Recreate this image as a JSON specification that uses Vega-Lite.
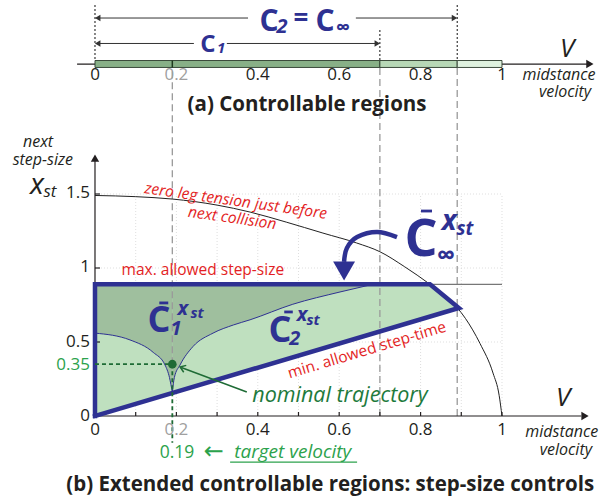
{
  "$schema": "https://vega.github.io/schema/vega-lite/v6.json",
  "width": 603,
  "height": 501,
  "autosize": {"type": "none"},
  "padding": 0,
  "background": "white",
  "config": {"view": {"stroke": null}, "font": "Open Sans"},
  "encoding": {
    "x": {"field": "x", "type": "quantitative", "scale": {"domain": [-0.2334, 1.2482], "nice": false, "zero": false}, "axis": null},
    "y": {"field": "y", "type": "quantitative", "scale": {"domain": [-0.5743, 2.8108], "nice": false, "zero": false}, "axis": null}
  },
  "datasets": {
    "grid": [
      {"x": 0.1, "y": 0, "x2": 0.1, "y2": 1.5}, {"x": 0.2, "y": 0, "x2": 0.2, "y2": 1.5},
      {"x": 0.3, "y": 0, "x2": 0.3, "y2": 1.5}, {"x": 0.4, "y": 0, "x2": 0.4, "y2": 1.5},
      {"x": 0.5, "y": 0, "x2": 0.5, "y2": 1.5}, {"x": 0.6, "y": 0, "x2": 0.6, "y2": 1.5},
      {"x": 0.7, "y": 0, "x2": 0.7, "y2": 1.5}, {"x": 0.8, "y": 0, "x2": 0.8, "y2": 1.5},
      {"x": 0.9, "y": 0, "x2": 0.9, "y2": 1.5}, {"x": 1.0, "y": 0, "x2": 1.0, "y2": 1.5},
      {"x": 0, "y": 0.5, "x2": 1, "y2": 0.5}, {"x": 0, "y": 1, "x2": 1, "y2": 1}, {"x": 0, "y": 1.5, "x2": 1, "y2": 1.5}
    ],
    "cinf": [
      {"x": 0, "y": 0, "top": 0.89}, {"x": 0.823, "y": 0.672, "top": 0.89}, {"x": 0.894, "y": 0.73, "top": 0.73}
    ],
    "bc": [
      {"c": "left", "x": 0, "y": 0.56, "top": 0.89},
      {"c": "left", "x": 0.086, "y": 0.514, "top": 0.89},
      {"c": "left", "x": 0.143, "y": 0.43, "top": 0.89},
      {"c": "left", "x": 0.172, "y": 0.345, "top": 0.89},
      {"c": "left", "x": 0.183, "y": 0.26, "top": 0.89},
      {"c": "left", "x": 0.19, "y": 0.16, "top": 0.89},
      {"c": "right", "x": 0.19, "y": 0.16, "top": 0.89},
      {"c": "right", "x": 0.195, "y": 0.26, "top": 0.89},
      {"c": "right", "x": 0.209, "y": 0.345, "top": 0.89},
      {"c": "right", "x": 0.241, "y": 0.47, "top": 0.89},
      {"c": "right", "x": 0.29, "y": 0.56, "top": 0.89},
      {"c": "right", "x": 0.34, "y": 0.615, "top": 0.89},
      {"c": "right", "x": 0.381, "y": 0.65, "top": 0.89},
      {"c": "right", "x": 0.486, "y": 0.755, "top": 0.89},
      {"c": "right", "x": 0.602, "y": 0.838, "top": 0.89},
      {"c": "right", "x": 0.683, "y": 0.89, "top": 0.89}
    ],
    "tension": [
      {"x": 0, "y": 1.49}, {"x": 0.1, "y": 1.482}, {"x": 0.19, "y": 1.466}, {"x": 0.3, "y": 1.425},
      {"x": 0.381, "y": 1.378}, {"x": 0.47, "y": 1.31}, {"x": 0.56, "y": 1.236}, {"x": 0.643, "y": 1.169},
      {"x": 0.7, "y": 1.11}, {"x": 0.76, "y": 1.01}, {"x": 0.823, "y": 0.89}, {"x": 0.87, "y": 0.79},
      {"x": 0.91, "y": 0.66}, {"x": 0.946, "y": 0.49}, {"x": 0.978, "y": 0.29}, {"x": 0.993, "y": 0.14}, {"x": 1.0, "y": 0}
    ],
    "maxline": [{"x": 0.823, "y": 0.89, "x2": 1.0, "y2": 0.89}],
    "vdash": [
      {"x": 0.19, "y": 0.35, "x2": 0.19, "y2": 2.365},
      {"x": 0.7, "y": 0, "x2": 0.7, "y2": 2.365},
      {"x": 0.89, "y": 0, "x2": 0.89, "y2": 2.365}
    ],
    "boundary": [
      {"o": 1, "x": 0, "y": 0}, {"o": 2, "x": 0, "y": 0.89}, {"o": 3, "x": 0.823, "y": 0.89},
      {"o": 4, "x": 0.894, "y": 0.73}, {"o": 5, "x": 0, "y": 0}
    ],
    "axes": [
      {"x": -0.044, "y": 2.378, "x2": 1.21, "y2": 2.378},
      {"x": 0, "y": 0, "x2": 1.195, "y2": 0},
      {"x": 0, "y": 0, "x2": 0, "y2": 1.73},
      {"x": 0.1, "y": 0, "x2": 0.1, "y2": 0.027}, {"x": 0.2, "y": 0, "x2": 0.2, "y2": 0.027},
      {"x": 0.3, "y": 0, "x2": 0.3, "y2": 0.027}, {"x": 0.4, "y": 0, "x2": 0.4, "y2": 0.027},
      {"x": 0.5, "y": 0, "x2": 0.5, "y2": 0.027}, {"x": 0.6, "y": 0, "x2": 0.6, "y2": 0.027},
      {"x": 0.7, "y": 0, "x2": 0.7, "y2": 0.027}, {"x": 0.8, "y": 0, "x2": 0.8, "y2": 0.027},
      {"x": 0.9, "y": 0, "x2": 0.9, "y2": 0.027}, {"x": 1.0, "y": 0, "x2": 1.0, "y2": 0.027},
      {"x": 0, "y": 0.5, "x2": 0.0123, "y2": 0.5}, {"x": 0, "y": 1, "x2": 0.0123, "y2": 1},
      {"x": 0, "y": 1.5, "x2": 0.0123, "y2": 1.5}
    ],
    "bar": [
      {"x": 0, "x2": 0.7, "y": 2.355, "y2": 2.402, "k": "C1"},
      {"x": 0.7, "x2": 0.89, "y": 2.355, "y2": 2.402, "k": "C2"},
      {"x": 0.89, "x2": 1.0, "y": 2.355, "y2": 2.402, "k": "rest"}
    ],
    "bartick": [{"x": 0.19, "y": 2.355, "x2": 0.19, "y2": 2.402}],
    "dotted": [
      {"x": 0, "y": 2.777, "x2": 0, "y2": 2.402},
      {"x": 0.7, "y": 2.608, "x2": 0.7, "y2": 2.402},
      {"x": 0.89, "y": 2.777, "x2": 0.89, "y2": 2.402}
    ],
    "carrows": [
      {"x": 0.005, "y": 2.689, "x2": 0.376, "y2": 2.689},
      {"x": 0.641, "y": 2.689, "x2": 0.885, "y2": 2.689},
      {"x": 0.005, "y": 2.517, "x2": 0.243, "y2": 2.517},
      {"x": 0.324, "y": 2.517, "x2": 0.695, "y2": 2.517}
    ],
    "headsL": [{"x": 0.0066, "y": 2.689}, {"x": 0.0066, "y": 2.517}],
    "headsR": [{"x": 0.8833, "y": 2.689}, {"x": 0.6937, "y": 2.517}],
    "axisR": [{"x": 1.216, "y": 2.378}, {"x": 1.204, "y": 0}],
    "axisU": [{"x": 0, "y": 1.743}],
    "gdash": [
      {"x": 0, "y": 0.35, "x2": 0.19, "y2": 0.35},
      {"x": 0.19, "y": 0.35, "x2": 0.19, "y2": -0.18}
    ],
    "garrow": [{"x": 0.373, "y": 0.162, "x2": 0.212, "y2": 0.328}],
    "gtip": [{"x": 0.209, "y": 0.331}],
    "gdot": [{"x": 0.19, "y": 0.35}],
    "uline": [{"x": 0.332, "y": -0.311, "x2": 0.644, "y2": -0.311}],
    "macron": [
      {"x": 0.801, "y": 1.385, "x2": 0.828, "y2": 1.385},
      {"x": 0.158, "y": 0.764, "x2": 0.18, "y2": 0.764},
      {"x": 0.465, "y": 0.703, "x2": 0.486, "y2": 0.703}
    ],
    "bluearrow": [
      {"o": 1, "x": 0.742, "y": 1.209}, {"o": 2, "x": 0.693, "y": 1.243}, {"o": 3, "x": 0.644, "y": 1.209},
      {"o": 4, "x": 0.619, "y": 1.135}, {"o": 5, "x": 0.612, "y": 1.041}
    ],
    "bluehead": [{"x": 0.612, "y": 0.98}],
    "xlab": [
      {"x": 0, "y": -0.095, "t": "0"}, {"x": 0.4, "y": -0.095, "t": "0.4"}, {"x": 0.6, "y": -0.095, "t": "0.6"},
      {"x": 0.8, "y": -0.095, "t": "0.8"}, {"x": 1.0, "y": -0.095, "t": "1"},
      {"x": 0, "y": 2.304, "t": "0"}, {"x": 0.4, "y": 2.304, "t": "0.4"}, {"x": 0.6, "y": 2.304, "t": "0.6"},
      {"x": 0.8, "y": 2.304, "t": "0.8"}, {"x": 1.0, "y": 2.304, "t": "1"}
    ],
    "xlabgray": [{"x": 0.2, "y": -0.095, "t": "0.2"}, {"x": 0.2, "y": 2.304, "t": "0.2"}],
    "ylab": [
      {"x": -0.0123, "y": 1.507, "t": "1.5"}, {"x": -0.0123, "y": 1.007, "t": "1"},
      {"x": -0.0123, "y": 0.5, "t": "0.5"}, {"x": -0.0123, "y": 0.0, "t": "0"}
    ],
    "ylabgreen": [{"x": -0.0123, "y": 0.345, "t": "0.35"}],
    "axnames": [
      {"x": -0.14, "y": 1.85, "t": "next"}, {"x": -0.128, "y": 1.727, "t": "step-size"},
      {"x": 1.147, "y": -0.108, "t": "midstance"}, {"x": 1.157, "y": -0.232, "t": "velocity"},
      {"x": 1.14, "y": 2.304, "t": "midstance"}, {"x": 1.155, "y": 2.19, "t": "velocity"}
    ],
    "vlab": [{"x": 1.16, "y": 2.48, "t": "V"}, {"x": 1.15, "y": 0.122, "t": "V"}],
    "xst_x": [{"x": -0.1425, "y": 1.561, "t": "x"}],
    "xst_st": [{"x": -0.1106, "y": 1.514, "t": "st"}],
    "titles": [
      {"x": 0.521, "y": 2.101, "t": "(a)  Controllable regions"},
      {"x": 0.578, "y": -0.466, "t": "(b)  Extended controllable regions: step-size controls"}
    ],
    "redflat": [{"x": 0.265, "y": 0.986, "t": "max. allowed step-size"}],
    "redcurve": [
      {"x": 0.346, "y": 1.453, "t": "zero leg tension just before"},
      {"x": 0.337, "y": 1.338, "t": "next collision"}
    ],
    "redslope": [{"x": 0.668, "y": 0.446, "t": "min. allowed step-time"}],
    "b52": [{"x": 0.801, "y": 1.081, "t": "C"}],
    "b36": [{"x": 0.157, "y": 0.5676, "t": "C"}, {"x": 0.4545, "y": 0.5, "t": "C"}],
    "b30": [{"x": 0.4275, "y": 2.601, "t": "C"}, {"x": 0.565, "y": 2.601, "t": "C"}],
    "b26": [{"x": 0.506, "y": 2.682, "t": "="}, {"x": 0.862, "y": 1.081, "t": "∞"}],
    "b24": [{"x": 0.2776, "y": 2.459, "t": "C"}],
    "b20i": [
      {"x": 0.4595, "y": 2.628, "t": "2"}, {"x": 0.609, "y": 2.622, "t": "∞"},
      {"x": 0.199, "y": 0.588, "t": "1"}, {"x": 0.216, "y": 0.723, "t": "x"},
      {"x": 0.491, "y": 0.52, "t": "2"}, {"x": 0.5086, "y": 0.682, "t": "x"}
    ],
    "b28i": [{"x": 0.87, "y": 1.311, "t": "x"}],
    "b19i": [{"x": 0.909, "y": 1.264, "t": "st"}],
    "b15i": [
      {"x": 0.31, "y": 2.486, "t": "1"}, {"x": 0.251, "y": 0.696, "t": "st"}, {"x": 0.536, "y": 0.649, "t": "st"}
    ],
    "greentxt": [{"x": 0.2015, "y": -0.25, "t": "0.19"}],
    "greenarrow": [{"x": 0.292, "y": -0.245, "t": "←"}],
    "greenital": [{"x": 0.486, "y": -0.243, "t": "target velocity"}],
    "nominal": [{"x": 0.602, "y": 0.135, "t": "nominal trajectory"}]
  },
  "layer": [
    {"data": {"name": "grid"}, "mark": {"type": "rule", "color": "#d6d6d6", "strokeWidth": 0.8, "strokeDash": [1, 2]},
     "encoding": {"x2": {"field": "x2"}, "y2": {"field": "y2"}}},
    {"data": {"name": "cinf"}, "mark": {"type": "area", "color": "#bfe0bf", "opacity": 1},
     "encoding": {"y": {"field": "y", "type": "quantitative", "stack": null, "scale": {"domain": [-0.5743, 2.8108], "nice": false, "zero": false}, "axis": null}, "y2": {"field": "top"}}},
    {"data": {"name": "bc"}, "mark": {"type": "area", "color": "#9fbf9e", "opacity": 1, "interpolate": "monotone"},
     "encoding": {"y": {"field": "y", "type": "quantitative", "stack": null, "scale": {"domain": [-0.5743, 2.8108], "nice": false, "zero": false}, "axis": null}, "y2": {"field": "top"}, "detail": {"field": "c"}}},
    {"data": {"name": "bc"}, "mark": {"type": "line", "color": "#2e3192", "strokeWidth": 1, "interpolate": "monotone"},
     "encoding": {"detail": {"field": "c"}}},
    {"data": {"name": "vdash"}, "mark": {"type": "rule", "color": "#9a9a9a", "strokeWidth": 1.3, "strokeDash": [7, 4]},
     "encoding": {"x2": {"field": "x2"}, "y2": {"field": "y2"}}},
    {"data": {"name": "tension"}, "mark": {"type": "line", "color": "#222222", "strokeWidth": 1, "interpolate": "monotone"},
     "encoding": {}},
    {"data": {"name": "maxline"}, "mark": {"type": "rule", "color": "#777777", "strokeWidth": 1.3},
     "encoding": {"x2": {"field": "x2"}, "y2": {"field": "y2"}}},
    {"data": {"name": "axes"}, "mark": {"type": "rule", "color": "#231f20", "strokeWidth": 1.2},
     "encoding": {"x2": {"field": "x2"}, "y2": {"field": "y2"}}},
    {"data": {"name": "boundary"}, "mark": {"type": "line", "color": "#2e3192", "strokeWidth": 4.5, "strokeJoin": "miter", "strokeCap": "square"},
     "encoding": {"order": {"field": "o"}}},
    {"data": {"name": "gdash"}, "mark": {"type": "rule", "color": "#1e6b35", "strokeWidth": 1.8, "strokeDash": [4, 3]},
     "encoding": {"x2": {"field": "x2"}, "y2": {"field": "y2"}}},
    {"data": {"name": "garrow"}, "mark": {"type": "rule", "color": "#1e6b35", "strokeWidth": 1.5},
     "encoding": {"x2": {"field": "x2"}, "y2": {"field": "y2"}}},
    {"data": {"name": "gtip"}, "mark": {"type": "point", "shape": "M-1,-0.7L0,0L-1,0.7", "filled": false, "stroke": "#1e6b35", "strokeWidth": 1.5, "size": 110, "angle": 200, "opacity": 1},
     "encoding": {}},
    {"data": {"name": "gdot"}, "mark": {"type": "point", "shape": "circle", "filled": true, "color": "#1e6b35", "size": 75, "opacity": 1},
     "encoding": {}},
    {"data": {"name": "uline"}, "mark": {"type": "rule", "color": "#2ca24c", "strokeWidth": 1.2},
     "encoding": {"x2": {"field": "x2"}, "y2": {"field": "y2"}}},
    {"data": {"name": "bar"}, "mark": {"type": "rect", "stroke": "#2b3b2b", "strokeWidth": 0.9},
     "encoding": {"x2": {"field": "x2"}, "y2": {"field": "y2"},
       "color": {"field": "k", "type": "nominal", "scale": {"domain": ["C1", "C2", "rest"], "range": ["#88b087", "#b7d8b6", "#dff2df"]}, "legend": null}}},
    {"data": {"name": "bartick"}, "mark": {"type": "rule", "color": "#1e3a1e", "strokeWidth": 1.5},
     "encoding": {"x2": {"field": "x2"}, "y2": {"field": "y2"}}},
    {"data": {"name": "dotted"}, "mark": {"type": "rule", "color": "#111111", "strokeWidth": 1, "strokeDash": [2, 2]},
     "encoding": {"x2": {"field": "x2"}, "y2": {"field": "y2"}}},
    {"data": {"name": "carrows"}, "mark": {"type": "rule", "color": "#333333", "strokeWidth": 1},
     "encoding": {"x2": {"field": "x2"}, "y2": {"field": "y2"}}},
    {"data": {"name": "headsL"}, "mark": {"type": "point", "shape": "triangle-left", "filled": true, "color": "#333333", "size": 40, "opacity": 1}, "encoding": {}},
    {"data": {"name": "headsR"}, "mark": {"type": "point", "shape": "triangle-right", "filled": true, "color": "#333333", "size": 40, "opacity": 1}, "encoding": {}},
    {"data": {"name": "axisR"}, "mark": {"type": "point", "shape": "triangle-right", "filled": true, "color": "#231f20", "size": 70, "opacity": 1}, "encoding": {}},
    {"data": {"name": "axisU"}, "mark": {"type": "point", "shape": "triangle-up", "filled": true, "color": "#231f20", "size": 70, "opacity": 1}, "encoding": {}},
    {"data": {"name": "macron"}, "mark": {"type": "rule", "color": "#2e3192", "strokeWidth": 2.8},
     "encoding": {"x2": {"field": "x2"}, "y2": {"field": "y2"}}},
    {"data": {"name": "bluearrow"}, "mark": {"type": "line", "color": "#2e3192", "strokeWidth": 4.5, "interpolate": "cardinal"},
     "encoding": {"order": {"field": "o"}}},
    {"data": {"name": "bluehead"}, "mark": {"type": "point", "shape": "triangle-down", "filled": true, "color": "#2e3192", "size": 480, "opacity": 1}, "encoding": {}},
    {"data": {"name": "xlab"}, "mark": {"type": "text", "font": "Open Sans", "fontSize": 17, "color": "#231f20", "align": "center", "baseline": "middle"}, "encoding": {"text": {"field": "t"}}},
    {"data": {"name": "xlabgray"}, "mark": {"type": "text", "font": "Open Sans", "fontSize": 17, "color": "#a0a0a0", "align": "center", "baseline": "middle"}, "encoding": {"text": {"field": "t"}}},
    {"data": {"name": "ylab"}, "mark": {"type": "text", "font": "Open Sans", "fontSize": 17, "color": "#231f20", "align": "right", "baseline": "middle"}, "encoding": {"text": {"field": "t"}}},
    {"data": {"name": "ylabgreen"}, "mark": {"type": "text", "font": "Open Sans", "fontSize": 17, "color": "#2ca24c", "align": "right", "baseline": "middle"}, "encoding": {"text": {"field": "t"}}},
    {"data": {"name": "axnames"}, "mark": {"type": "text", "font": "Open Sans", "fontSize": 16, "fontStyle": "italic", "color": "#231f20", "align": "center", "baseline": "middle"}, "encoding": {"text": {"field": "t"}}},
    {"data": {"name": "vlab"}, "mark": {"type": "text", "font": "Open Sans", "fontSize": 26, "fontStyle": "italic", "color": "#231f20", "align": "center", "baseline": "middle"}, "encoding": {"text": {"field": "t"}}},
    {"data": {"name": "xst_x"}, "mark": {"type": "text", "font": "Open Sans", "fontSize": 29, "fontStyle": "italic", "color": "#231f20", "align": "center", "baseline": "middle"}, "encoding": {"text": {"field": "t"}}},
    {"data": {"name": "xst_st"}, "mark": {"type": "text", "font": "Open Sans", "fontSize": 17, "fontStyle": "italic", "color": "#231f20", "align": "center", "baseline": "middle"}, "encoding": {"text": {"field": "t"}}},
    {"data": {"name": "titles"}, "mark": {"type": "text", "font": "Open Sans", "fontSize": 20.5, "fontWeight": "bold", "color": "#231f20", "align": "center", "baseline": "middle"}, "encoding": {"text": {"field": "t"}}},
    {"data": {"name": "redflat"}, "mark": {"type": "text", "font": "Open Sans", "fontSize": 15.5, "color": "#e31e24", "align": "center", "baseline": "middle"}, "encoding": {"text": {"field": "t"}}},
    {"data": {"name": "redcurve"}, "mark": {"type": "text", "font": "Open Sans", "fontSize": 15.5, "fontStyle": "italic", "color": "#e31e24", "align": "center", "baseline": "middle", "angle": 8}, "encoding": {"text": {"field": "t"}}},
    {"data": {"name": "redslope"}, "mark": {"type": "text", "font": "Open Sans", "fontSize": 15.5, "color": "#e31e24", "align": "center", "baseline": "middle", "angle": 343.3}, "encoding": {"text": {"field": "t"}}},
    {"data": {"name": "b52"}, "mark": {"type": "text", "font": "Open Sans", "fontSize": 52, "fontWeight": "bold", "color": "#2e3192", "align": "center", "baseline": "alphabetic"}, "encoding": {"text": {"field": "t"}}},
    {"data": {"name": "b36"}, "mark": {"type": "text", "font": "Open Sans", "fontSize": 36, "fontWeight": "bold", "color": "#2e3192", "align": "center", "baseline": "alphabetic"}, "encoding": {"text": {"field": "t"}}},
    {"data": {"name": "b30"}, "mark": {"type": "text", "font": "Open Sans", "fontSize": 30, "fontWeight": "bold", "color": "#2e3192", "align": "center", "baseline": "alphabetic"}, "encoding": {"text": {"field": "t"}}},
    {"data": {"name": "b26"}, "mark": {"type": "text", "font": "Open Sans", "fontSize": 26, "fontWeight": "bold", "color": "#2e3192", "align": "center", "baseline": "middle"}, "encoding": {"text": {"field": "t"}}},
    {"data": {"name": "b24"}, "mark": {"type": "text", "font": "Open Sans", "fontSize": 24, "fontWeight": "bold", "color": "#2e3192", "align": "center", "baseline": "alphabetic"}, "encoding": {"text": {"field": "t"}}},
    {"data": {"name": "b20i"}, "mark": {"type": "text", "font": "Open Sans", "fontSize": 20, "fontWeight": "bold", "fontStyle": "italic", "color": "#2e3192", "align": "center", "baseline": "middle"}, "encoding": {"text": {"field": "t"}}},
    {"data": {"name": "b28i"}, "mark": {"type": "text", "font": "Open Sans", "fontSize": 28, "fontWeight": "bold", "fontStyle": "italic", "color": "#2e3192", "align": "center", "baseline": "middle"}, "encoding": {"text": {"field": "t"}}},
    {"data": {"name": "b19i"}, "mark": {"type": "text", "font": "Open Sans", "fontSize": 19, "fontWeight": "bold", "fontStyle": "italic", "color": "#2e3192", "align": "center", "baseline": "middle"}, "encoding": {"text": {"field": "t"}}},
    {"data": {"name": "b15i"}, "mark": {"type": "text", "font": "Open Sans", "fontSize": 15, "fontWeight": "bold", "fontStyle": "italic", "color": "#2e3192", "align": "center", "baseline": "middle"}, "encoding": {"text": {"field": "t"}}},
    {"data": {"name": "greentxt"}, "mark": {"type": "text", "font": "Open Sans", "fontSize": 17.5, "color": "#2ca24c", "align": "center", "baseline": "middle"}, "encoding": {"text": {"field": "t"}}},
    {"data": {"name": "greenarrow"}, "mark": {"type": "text", "font": "DejaVu Sans", "fontSize": 24, "color": "#2ca24c", "align": "center", "baseline": "middle"}, "encoding": {"text": {"field": "t"}}},
    {"data": {"name": "greenital"}, "mark": {"type": "text", "font": "Open Sans", "fontSize": 19, "fontStyle": "italic", "color": "#2ca24c", "align": "center", "baseline": "middle"}, "encoding": {"text": {"field": "t"}}},
    {"data": {"name": "nominal"}, "mark": {"type": "text", "font": "Open Sans", "fontSize": 21.5, "fontStyle": "italic", "color": "#1e7a3c", "align": "center", "baseline": "middle"}, "encoding": {"text": {"field": "t"}}}
  ]
}
